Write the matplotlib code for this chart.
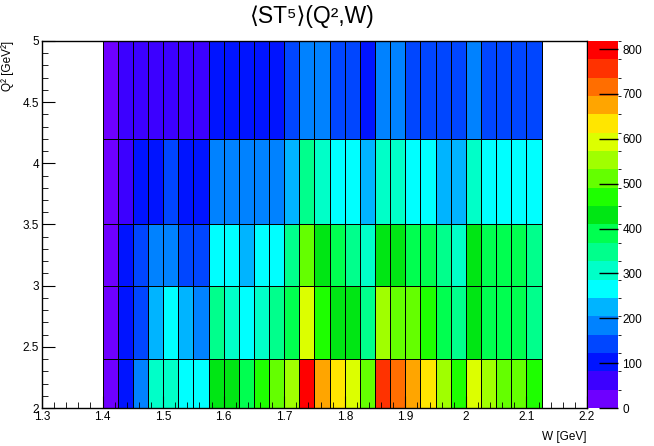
import numpy as np
from matplotlib import pyplot as plt
from matplotlib.colors import ListedColormap, BoundaryNorm
from matplotlib.ticker import MultipleLocator

plt.rcParams['font.family'] = ['Liberation Sans', 'DejaVu Sans']

# bin edges
w_edges = np.round(np.arange(1.4, 2.1251, 0.025), 4)
q2_edges = [2.0, 2.4, 3.0, 3.5, 4.2, 5.0]

# colour level (0..19) read for each cell, rows = Q2 bins from bottom
levels_row1 = [0, 2, 4, 7, 7, 6, 6, 10, 10, 9, 11, 12, 13, 19, 16, 15, 14, 12,
               18, 17, 16, 15, 13, 11, 14, 13, 12, 12, 11]
levels_row2 = [0, 2, 3, 5, 6, 5, 4, 8, 7, 6, 7, 8, 9, 14, 11, 10, 10, 8,
               13, 12, 12, 11, 9, 8, 10, 9, 9, 9, 8]
levels_row3 = [0, 2, 3, 4, 4, 3, 3, 6, 6, 5, 6, 6, 8, 12, 10, 9, 8, 7,
               10, 10, 9, 9, 8, 7, 10, 9, 9, 9, 8]
levels_row4 = [0, 1, 2, 2, 3, 2, 2, 4, 4, 4, 4, 4, 5, 8, 7, 6, 6, 5,
               7, 7, 6, 6, 5, 5, 7, 6, 6, 6, 6]
levels_row5 = [0, 1, 1, 1, 1, 1, 1, 2, 2, 2, 2, 2, 3, 4, 4, 3, 3, 2,
               4, 4, 3, 3, 3, 3, 4, 3, 3, 3, 3]

zmax = 818.0
step = zmax / 20
values = (np.array([levels_row1, levels_row2, levels_row3,
                    levels_row4, levels_row5]) + 0.5) * step

palette = ['#6e00ff', '#3c00ff', '#0014ff', '#0046ff', '#0082ff',
           '#00b4ff', '#00ffff', '#00ffc8', '#00ff8c', '#00ff50',
           '#00e614', '#1eff00', '#64ff00', '#a0ff00', '#dcff00',
           '#ffe600', '#ffa500', '#ff6e00', '#ff3200', '#ff0000']
cmap = ListedColormap(palette)
norm = BoundaryNorm(np.linspace(0, zmax, 21), cmap.N)

fig = plt.figure(figsize=(6.54, 4.46), dpi=100)
ax = fig.add_axes([0.0642, 0.0852, 0.8333, 0.8229])
cax = fig.add_axes([0.899, 0.0852, 0.046, 0.8229])

mesh = ax.pcolormesh(w_edges, q2_edges, values, cmap=cmap, norm=norm,
                     edgecolors='black', linewidth=0.6)
ax.set_axisbelow(False)
ax.set_xlim(1.3, 2.2)
ax.set_ylim(2, 5)
ax.xaxis.set_major_locator(MultipleLocator(0.1))
ax.xaxis.set_minor_locator(MultipleLocator(0.02))
ax.yaxis.set_major_locator(MultipleLocator(0.5))
ax.yaxis.set_minor_locator(MultipleLocator(0.1))
ax.xaxis.set_major_formatter(plt.FuncFormatter(lambda v, p: f'{v:g}'))
ax.yaxis.set_major_formatter(plt.FuncFormatter(lambda v, p: f'{v:g}'))
ax.tick_params(which='both', direction='in', top=False, right=False,
               labelsize=8.5, pad=2)
ax.tick_params(which='major', length=9)
ax.tick_params(which='minor', length=4.5)
for s in ax.spines.values():
    s.set_linewidth(1.0)

ax.set_xlabel('W [GeV]', loc='right', fontsize=8.5, labelpad=6)
ax.set_ylabel('Q² [GeV²]', loc='top', fontsize=8.5, labelpad=6)
fig.text(0.477, 0.962, '⟨ST⁵⟩(Q²,W)', ha='center', va='center', fontsize=16.5)

cb = fig.colorbar(mesh, cax=cax, ticks=np.arange(0, 801, 100))
cb.outline.set_visible(False)
cax.tick_params(direction='in', length=14, labelsize=8.5, pad=3, width=1)
cb.set_ticklabels([str(t) for t in range(0, 801, 100)])

fig.savefig('out.png', dpi=100)
